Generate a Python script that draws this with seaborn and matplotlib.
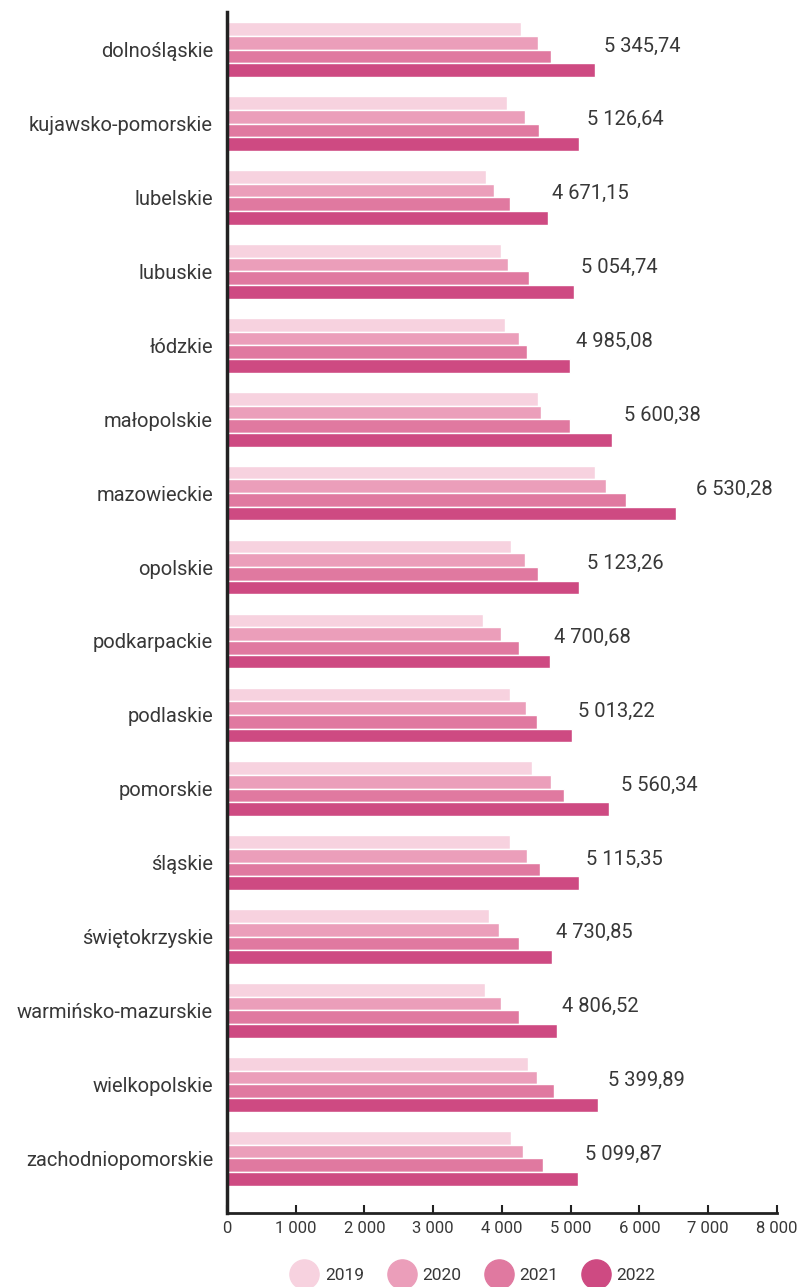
#!/bin/python
# -*- coding: utf-8 -*-
"""
Average monthly gross salary by voivodeship, 2019-2022 (horizontal grouped bars).
"""

import pandas as pd
import matplotlib.pyplot as plt
from matplotlib.ticker import FuncFormatter
import seaborn as sns

regions = ["dolnośląskie", "kujawsko-pomorskie", "lubelskie", "lubuskie", "łódzkie",
           "małopolskie", "mazowieckie", "opolskie", "podkarpackie", "podlaskie",
           "pomorskie", "śląskie", "świętokrzyskie", "warmińsko-mazurskie",
           "wielkopolskie", "zachodniopomorskie"]
years = ["2019", "2020", "2021", "2022"]

v2019 = [4280, 4080, 3766, 3984, 4042, 4522, 5346, 4130, 3723, 4115,
         4435, 4115, 3810, 3752, 4377, 4130]
v2020 = [4530, 4340, 3883, 4086, 4246, 4566, 5520, 4333, 3984, 4348,
         4712, 4363, 3955, 3984, 4508, 4304]
v2021 = [4720, 4544, 4115, 4392, 4362, 4988, 5800, 4522, 4246, 4508,
         4901, 4552, 4246, 4246, 4755, 4595]
v2022 = [5345.74, 5126.64, 4671.15, 5054.74, 4985.08, 5600.38, 6530.28, 5123.26,
         4700.68, 5013.22, 5560.34, 5115.35, 4730.85, 4806.52, 5399.89, 5099.87]

x_ticks = [0, 1000, 2000, 3000, 4000, 5000, 6000, 7000, 8000]
colors = ["#f7d2df", "#eb9eba", "#e079a0", "#ce4a82"]


def pl_number(v, decimals=0):
    s = f"{v:,.{decimals}f}"
    return s.replace(",", " ").replace(".", ",")


def main():
    rows = []
    for year, vals in zip(years, [v2019, v2020, v2021, v2022]):
        for reg, v in zip(regions, vals):
            rows.append({"region": reg, "year": year, "value": v})
    df = pd.DataFrame(rows)

    sns.set_style("white")
    plt.rcParams['font.family'] = ['Roboto', 'DejaVu Sans']
    text_color = "#383838"

    fig = plt.figure(figsize=(7.99, 12.87), dpi=100)
    ax = fig.add_axes([0.284, 0.0575, 0.6885, 0.9332])

    sns.barplot(data=df, y="region", x="value", hue="year", order=regions,
                hue_order=years, palette=colors, saturation=1, orient="h", width=0.74,
                edgecolor="white", linewidth=1, legend=False, ax=ax)

    # Value labels for 2022
    for i, v in enumerate(v2022):
        ax.text(v * 1.13, i - 0.05, pl_number(v, 2), ha="center", va="center",
                fontsize=14.5, color=text_color)

    ax.set_xlim(0, 8000)
    ax.set_ylim(15.74, -0.51)
    ax.set_xticks(x_ticks)
    ax.xaxis.set_major_formatter(FuncFormatter(lambda x, pos: pl_number(x)))
    ax.set_xlabel("")
    ax.set_ylabel("")
    ax.tick_params(axis="x", direction="in", length=6, width=1.5, color="#222222",
                   labelsize=12, labelcolor=text_color, pad=6, bottom=True)
    ax.tick_params(axis="y", length=0, labelsize=14.5, labelcolor=text_color, pad=10)

    for s in ["top", "right"]:
        ax.spines[s].set_visible(False)
    ax.spines["left"].set_linewidth(2.5)
    ax.spines["left"].set_color("#222222")
    ax.spines["bottom"].set_linewidth(2)
    ax.spines["bottom"].set_color("#222222")

    handles = [plt.Line2D([0], [0], lw=0, marker="o", markersize=21,
                          markerfacecolor=c, markeredgecolor=c) for c in colors]
    fig.legend(handles, years, loc="center", bbox_to_anchor=(0.59, 0.009), ncol=4,
               frameon=False, fontsize=12.5, handletextpad=0.2, columnspacing=1.15,
               labelcolor=text_color)

    fig.savefig("out.png", dpi=100, facecolor="white")
    plt.close(fig)


if __name__ == "__main__":
    main()
